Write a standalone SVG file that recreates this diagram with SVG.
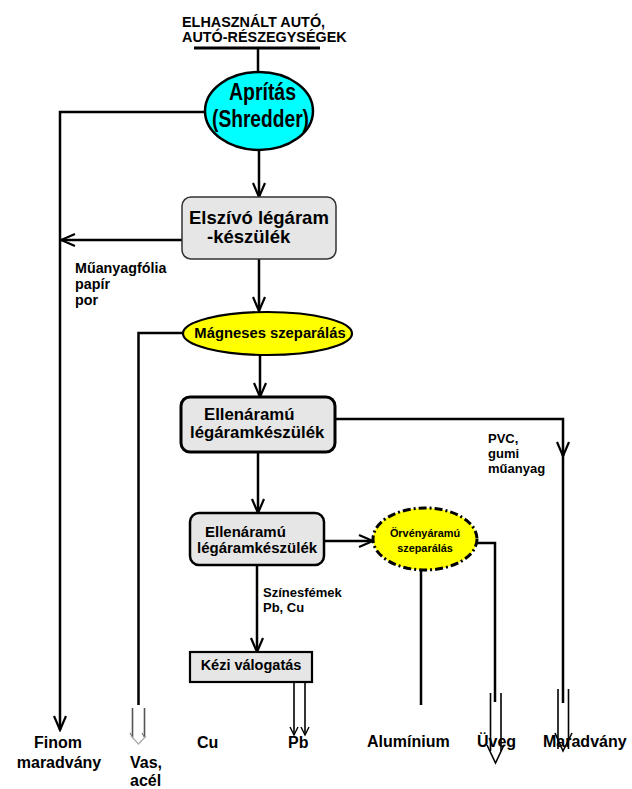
<svg xmlns="http://www.w3.org/2000/svg" width="632" height="789" viewBox="0 0 632 789">
  <style>
    text { font-family: "Liberation Sans", Arial, sans-serif; font-weight: bold; fill: #000; }
    .ln { fill: none; stroke: #000; stroke-width: 2.5; }
    .thin { fill: none; stroke: #000; stroke-width: 1.6; }
    .grey { fill: none; stroke: #555; stroke-width: 1.6; }
    .box { fill: #e6e6e6; }
  </style>
  <defs>
    <marker id="arr" viewBox="-16 -8 18 16" refX="0" refY="0" markerWidth="18" markerHeight="16" markerUnits="userSpaceOnUse" orient="auto">
      <path d="M-14,-6 L0,0 L-14,6" fill="none" stroke="#000" stroke-width="2.2"/>
    </marker>
    <marker id="arrSmall" viewBox="-10 -6 12 12" refX="0" refY="0" markerWidth="12" markerHeight="12" markerUnits="userSpaceOnUse" orient="auto">
      <path d="M-8,-4 L0,0 L-8,4" fill="none" stroke="#000" stroke-width="1.4"/>
    </marker>
  </defs>
  <rect width="632" height="789" fill="#fff"/>

  <!-- input -->
  <g id="input">
    <text x="182" y="26.5" font-size="14.4">ELHASZNÁLT AUTÓ,</text>
    <text x="182" y="41.5" font-size="14.4">AUTÓ-RÉSZEGYSÉGEK</text>
    <line x1="194" y1="48" x2="320" y2="48" stroke="#000" stroke-width="3"/>
  </g>

  <!-- connectors -->
  <g id="connectors">
    <line class="ln" x1="258" y1="48" x2="258" y2="72"/>
    <path class="ln" d="M259,150 V197" marker-end="url(#arr)"/>
    <path class="ln" d="M205,112 H60 V730" marker-end="url(#arr)"/>
    <path class="ln" d="M182,240 H61" marker-end="url(#arr)"/>
    <path class="ln" d="M259,259 V311" marker-end="url(#arr)"/>
    <path class="ln" d="M183,333 H138.5 V705"/>
    <path class="ln" d="M260,355 V397" marker-end="url(#arr)"/>
    <path class="ln" d="M335,419 H563 V456" marker-end="url(#arr)"/>
    <path class="ln" d="M563,452 V703"/>
    <path class="ln" d="M258,452 V513" marker-end="url(#arr)"/>
    <path class="ln" d="M324,541 H373" marker-end="url(#arr)"/>
    <path class="ln" d="M421,570 V705"/>
    <path class="ln" d="M477,543 H495 V702"/>
    <path class="ln" d="M257,565 V652" marker-end="url(#arr)"/>

    <!-- Vas, acél: hollow double arrow -->
    <line class="grey" x1="132.5" y1="708" x2="132.5" y2="737"/>
    <line class="grey" x1="144.5" y1="708" x2="144.5" y2="737"/>
    <path d="M130,733 L133,738 M142,733 L145,738" fill="none" stroke="#777" stroke-width="1.2"/>
    <path d="M131,736 L138.5,744 L146,736" fill="none" stroke="#aaa" stroke-width="1.2"/>

    <!-- Pb: double arrow -->
    <path class="thin" d="M294,682 V735" marker-end="url(#arrSmall)"/>
    <path class="thin" d="M305,682 V735" marker-end="url(#arrSmall)"/>

    <!-- Üveg: double arrow -->
    <line class="thin" x1="490.5" y1="693" x2="490.5" y2="751"/>
    <line class="thin" x1="501" y1="693" x2="501" y2="751"/>
    <path d="M487,745 L495.5,763 L504,745" fill="none" stroke="#000" stroke-width="1.6"/>

    <!-- Maradvány: double arrow -->
    <line class="thin" x1="558" y1="689" x2="558" y2="749"/>
    <line class="thin" x1="568.5" y1="689" x2="568.5" y2="749"/>
    <path d="M555,733 L563,751 L572,733" fill="none" stroke="#000" stroke-width="1.6"/>
  </g>

  <!-- shredder -->
  <g id="shredder">
    <ellipse cx="259" cy="111" rx="54" ry="39" fill="#00ffff" stroke="#000" stroke-width="2.5"/>
    <text x="262.5" y="100" font-size="23" text-anchor="middle" textLength="67" lengthAdjust="spacingAndGlyphs">Aprítás</text>
    <text x="260.5" y="127" font-size="23" text-anchor="middle" textLength="97" lengthAdjust="spacingAndGlyphs">(Shredder)</text>
  </g>

  <!-- suction air stream unit -->
  <g id="elszivo">
    <rect class="box" x="182" y="197" width="154" height="62" rx="9" stroke="#333" stroke-width="1.5"/>
    <text x="189" y="224" font-size="18.5">Elszívó légáram</text>
    <text x="207" y="243" font-size="18.5">-készülék</text>
    <text x="75" y="273" font-size="14.3">Műanyagfólia</text>
    <text x="75" y="289" font-size="14.3">papír</text>
    <text x="75" y="305" font-size="14.3">por</text>
  </g>

  <!-- magnetic separation -->
  <g id="magneses">
    <ellipse cx="267.5" cy="333.5" rx="84.5" ry="21.5" fill="#ffff00" stroke="#000" stroke-width="2.2"/>
    <text x="270" y="338" font-size="14.8" text-anchor="middle">Mágneses szeparálás</text>
  </g>

  <!-- counterflow unit 1 -->
  <g id="ellenaramu1">
    <rect class="box" x="181" y="397" width="154" height="55" rx="9" stroke="#000" stroke-width="3"/>
    <text x="204" y="420" font-size="16.8">Ellenáramú</text>
    <text x="190" y="438" font-size="16.8">légáramkészülék</text>
    <text x="488" y="443" font-size="13">PVC,</text>
    <text x="488" y="458" font-size="13">gumi</text>
    <text x="488" y="473" font-size="13">műanyag</text>
  </g>

  <!-- counterflow unit 2 -->
  <g id="ellenaramu2">
    <rect class="box" x="190" y="513" width="134" height="52" rx="9" stroke="#000" stroke-width="2.5"/>
    <text x="205" y="537" font-size="15">Ellenáramú</text>
    <text x="197" y="553" font-size="15">légáramkészülék</text>
    <text x="263" y="597" font-size="13">Színesfémek</text>
    <text x="263" y="612" font-size="13">Pb, Cu</text>
  </g>

  <!-- eddy current separation -->
  <g id="orveny">
    <ellipse cx="425" cy="539" rx="52" ry="31" fill="#ffff00" stroke="#000" stroke-width="3" stroke-dasharray="8 3 2 3"/>
    <text x="425" y="537" font-size="10.9" text-anchor="middle">Örvényáramú</text>
    <text x="425" y="552" font-size="10.9" text-anchor="middle">szeparálás</text>
  </g>

  <!-- manual sorting -->
  <g id="kezi">
    <rect class="box" x="190" y="652" width="122" height="30" stroke="#000" stroke-width="2.2"/>
    <text x="251" y="670" font-size="14.5" text-anchor="middle">Kézi válogatás</text>
  </g>

  <!-- outputs -->
  <g id="outputs" font-size="16">
    <text x="58" y="748" font-size="16" text-anchor="middle">Finom</text>
    <text x="59" y="768" font-size="16" text-anchor="middle">maradvány</text>
    <text x="130" y="768" font-size="16">Vas,</text>
    <text x="130" y="786" font-size="16">acél</text>
    <text x="197" y="748" font-size="16">Cu</text>
    <text x="288" y="748" font-size="16">Pb</text>
    <text x="367" y="747" font-size="16">Alumínium</text>
    <text x="477" y="747" font-size="16">Üveg</text>
    <text x="543" y="747" font-size="16">Maradvány</text>
  </g>
</svg>
